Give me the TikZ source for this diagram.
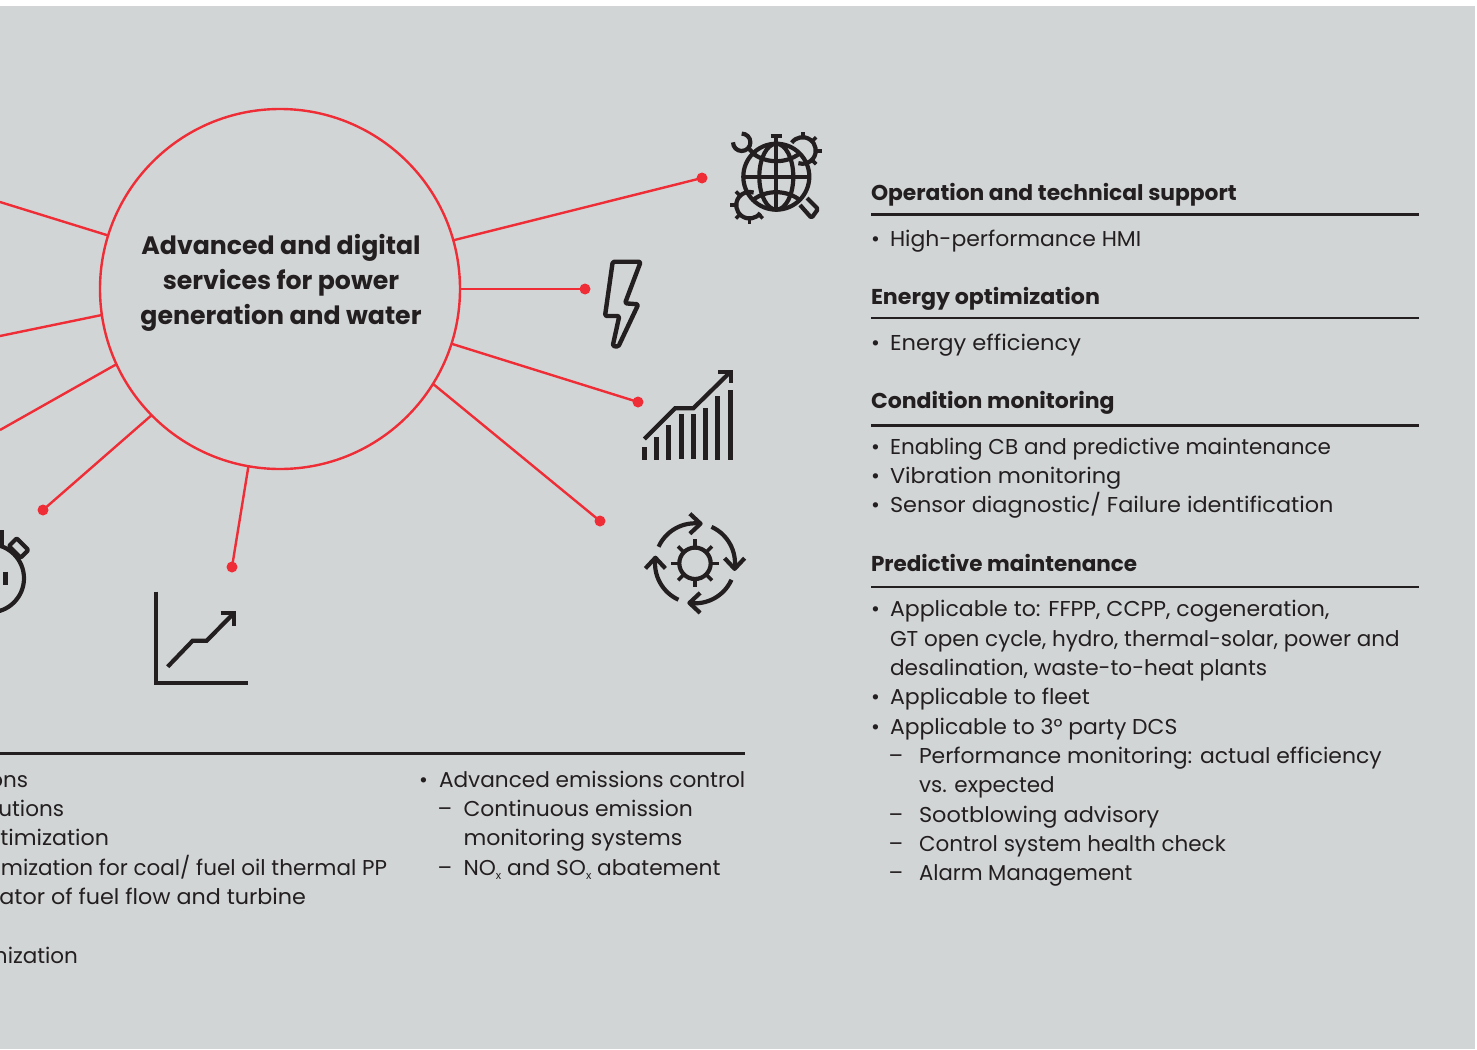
\documentclass[tikz,border=0pt]{standalone}
\usepackage{fontspec}
\usepackage{graphicx}
\usetikzlibrary{calc}
\setmainfont{Poppins}
\definecolor{bgc}{HTML}{D2D5D6}
\definecolor{redc}{HTML}{EE2D36}
\definecolor{inkc}{HTML}{231F20}
\tikzset{
  txt/.style={anchor=base west,inner sep=0pt,outer sep=0pt,text=inkc,font=\fontsize{21.5}{28}\selectfont},
  head/.style={txt,font=\fontsize{21.5}{28}\selectfont\bfseries},
  rulel/.style={draw=inkc,line width=2.4pt},
  spoke/.style={draw=redc,line width=2.4pt},
  dotn/.style={circle,fill=redc,inner sep=0pt,minimum size=11pt},
  ico/.style={draw=inkc,line width=4.2pt,line join=round},
  icothin/.style={draw=inkc,line width=3.6pt},
  bar/.style={fill=inkc}
}
\newcommand\tl[5][1]{\node[txt] (#2) at (#3,#4) {\scalebox{#1}[1]{#5}};}
\newcommand\hd[5][1]{\node[head] (#2) at (#3,#4) {\scalebox{#1}[1]{#5}};}
\newcommand\subx{\raisebox{-4pt}{\fontsize{11}{11}\selectfont x}}
\begin{document}
\begin{tikzpicture}[x=1pt,y=-1pt]
\clip (0,0) rectangle (1477,1049);
\fill[white] (0,0) rectangle (1477,1049);
\fill[bgc] (0,6) rectangle (1475,1049);
% hub
\node[circle,draw=redc,line width=2.4pt,inner sep=0pt,outer sep=0pt,minimum size=360pt] (hub) at (280,289) {};
\node[inner sep=0pt,align=center,text=inkc,font=\fontsize{25.2}{35}\selectfont\bfseries] (hubtext) at (281,282.5) {Advanced and digital\\services for power\\generation and water};
% spoke ends
\node[dotn] (d1) at (702,178) {};
\node[dotn] (d2) at (585,289) {};
\node[dotn] (d3) at (638,402) {};
\node[dotn] (d4) at (600,521) {};
\node[dotn] (d5) at (232,567) {};
\node[dotn] (d6) at (43,510) {};
\coordinate (e7) at (0,430);
\coordinate (e8) at (0,336);
\coordinate (e9) at (0,202);
\draw[spoke] ($(hub.center)+(15.7:180pt)$) -- (d1.center);
\draw[spoke] ($(hub.center)+(0:180pt)$) -- (d2.center);
\draw[spoke] ($(hub.center)+(-17.7:180pt)$) -- (d3.center);
\draw[spoke] ($(hub.center)+(-31.8:180pt)$) -- (d4.center);
\draw[spoke] ($(hub.center)+(259.9:180pt)$) -- (d5.center);
\draw[spoke] ($(hub.center)+(224.5:180pt)$) -- (d6.center);
\draw[spoke] ($(hub.center)+(204.7:180pt)$) -- (e7);
\draw[spoke] ($(hub.center)+(188.3:180pt)$) -- (e8);
\draw[spoke] ($(hub.center)+(162.7:180pt)$) -- (e9);
% globe icon
\begin{scope}[shift={(776.3,176.7)},y=1pt]
  \draw[ico] (0,0) circle[radius=33];
  \draw[ico] (0,0) ellipse[x radius=17,y radius=33];
  \draw[ico] (-33,0) -- (33,0);
  \draw[ico] (0,41) -- (0,-33);
  \draw[ico] (-5.8,41) -- (5.8,41);
  \draw[ico] (-23,23) .. controls (-10,13) and (10,13) .. (23,23);
  \draw[ico] (-23,-23) .. controls (-10,-13) and (10,-13) .. (23,-23);
  % wrench
  \draw[ico] (-34.6,43.1) arc[start angle=90,end angle=-180,radius=8.7];
  \draw[ico] (-27,27.5) -- (-21,21.5);
  % handle
  \draw[ico,rounded corners=1.5pt] (23.7,-28.3) -- (35.2,-41.3) -- (41.7,-32.3) -- (30.7,-21.3);
\end{scope}
\begin{scope}[shift={(802.7,150.7)},y=1pt]
  \draw[ico] (-11,8) arc[start angle=144,end angle=-108,radius=13.3];
  \foreach \a in {90,45,0,-45} \draw[icothin] (\a:13) -- (\a:19);
\end{scope}
\begin{scope}[shift={(749.3,205)},y=1pt]
  \draw[ico] (11,-8) arc[start angle=-36,end angle=-288,radius=13.3];
  \foreach \a in {-90,-45,-135,180,135} \draw[icothin] (\a:13) -- (\a:19);
\end{scope}
% bolt
\draw[ico,line width=4.4pt,rounded corners=1.5pt] (612.7,261.7) -- (640.7,261.7) -- (625,303.3) -- (638.3,304.3) -- (618.3,346.7) -- (612.7,346) -- (619.3,316) -- (605,316) -- cycle;
% bars
\foreach \x/\t/\b in {644.3/446.7/460,656.3/436.7/460,668.3/425/460,681.3/414/459,693.3/414/459,705.3/408.3/460,717.3/396/460,730.3/390/460}
  \fill[bar] (\x-2.5,\t) rectangle (\x+2.5,\b);
\draw[ico,line join=miter] (644.3,439) -- (675,408.3) -- (693.3,408.3) -- (730,372.3);
\draw[ico,line join=miter] (718,371.7) -- (730.7,371.7) -- (730.7,383.3);
% cycle icon
\begin{scope}[shift={(695,563.3)},y=1pt]
  \draw[ico] (0,0) circle[radius=15.7];
  \foreach \a in {0,45,...,315} \draw[icothin] (\a:15.7) -- (\a:24);
  \foreach \r in {0,-90,-180,-270} {
    \begin{scope}[rotate=\r]
      \draw[ico] (155.6:40) arc[start angle=155.6,end angle=82,radius=40];
      \draw[ico] ($(82:40)+(-10.7,10)$) -- (82:40) -- ($(82:40)+(-10.7,-10)$);
    \end{scope}
  }
\end{scope}
% stopwatch
\draw[ico] (-10,578.3) circle[radius=34];
\draw[icothin,line width=4.4pt] (5.5,571.7) -- (5.5,585);
\draw[ico,rounded corners=1pt] (16.7,538.3) -- (28.3,550) -- (20.7,557.7) -- (9,546) -- cycle;
\draw[ico,line width=7pt] (0,530) -- (0,547);
% chart icon
\draw[ico,line join=miter] (156.3,591.7) -- (156.3,683.3) -- (248.3,683.3);
\draw[ico,line join=miter] (167.7,666.7) -- (192.7,640.7) -- (206.7,640.7) -- (234.3,612.7);
\draw[ico,line join=miter] (220.7,612.7) -- (234.3,612.7) -- (234.3,626);
% right column
\hd[1.014]{h1}{871}{200}{Operation and technical support}
\coordinate (r1a) at (871,214.5); \coordinate (r1b) at (1419,214.5);
\draw[rulel] (r1a) -- (r1b);
\tl{b1}{871}{246}{•}\tl[1.02]{t1}{890}{246}{High-performance HMI}
\hd[1.03]{h2}{871}{304}{Energy optimization}
\coordinate (r2a) at (871,318); \coordinate (r2b) at (1419,318);
\draw[rulel] (r2a) -- (r2b);
\tl{b2}{871}{350}{•}\tl[1.05]{t2}{890}{350}{Energy efficiency}
\hd[1.025]{h3}{871}{408}{Condition monitoring}
\coordinate (r3a) at (871,425.5); \coordinate (r3b) at (1419,425.5);
\draw[rulel] (r3a) -- (r3b);
\tl{b3}{871}{454}{•}\tl{t3}{890}{454}{Enabling CB and predictive maintenance}
\tl{b4}{871}{483}{•}\tl[1.045]{t4}{890}{483}{Vibration monitoring}
\tl{b5}{871}{512}{•}\tl[1.042]{t5}{890}{512}{Sensor diagnostic/ Failure identification}
\hd{h4}{871}{571}{Predictive maintenance}
\coordinate (r4a) at (871,587); \coordinate (r4b) at (1419,587);
\draw[rulel] (r4a) -- (r4b);
\tl{b6}{871}{616}{•}\tl[1.026]{t6}{890}{616}{Applicable to: FFPP, CCPP, cogeneration,}
\tl{t7}{890}{646}{GT open cycle, hydro, thermal-solar, power and}
\tl[1.005]{t8}{890}{675}{desalination, waste-to-heat plants}
\tl{b9}{871}{704}{•}\tl[1.026]{t9}{890}{704}{Applicable to fleet}
\tl{b10}{871}{734}{•}\tl[1.018]{t10}{890}{734}{Applicable to 3° party DCS}
\tl{b11}{888.5}{763}{–}\tl[1.02]{t11}{919}{763}{Performance monitoring: actual efficiency}
\tl{t12}{919}{792}{vs. expected}
\tl{b13}{888.5}{822}{–}\tl[1.044]{t13}{919}{822}{Sootblowing advisory}
\tl{b14}{888.5}{851}{–}\tl{t14}{919}{851}{Control system health check}
\tl{b15}{888.5}{880}{–}\tl[.986]{t15}{919}{880}{Alarm Management}
% bottom
\coordinate (r5a) at (0,753.5); \coordinate (r5b) at (745,753.5);
\draw[rulel] (r5a) -- (r5b);
\node[txt,anchor=base east] (l1) at (28,787) {ons};
\node[txt,anchor=base east] (l2) at (64,816) {utions};
\node[txt,anchor=base east] (l3) at (109,845) {\scalebox{1.03}[1]{timization}};
\node[txt,anchor=base east] (l4) at (387,875) {mization for coal/ fuel oil thermal PP};
\node[txt,anchor=base east] (l5) at (306,904) {\scalebox{1.035}[1]{ator of fuel flow and turbine}};
\node[txt,anchor=base east] (l6) at (78,963) {nization};
\tl{m0}{419}{787}{•}\tl[1.006]{m1}{439}{787}{Advanced emissions control}
\tl{m2}{437.5}{816}{–}\tl[1.018]{m3}{463.5}{816}{Continuous emission}
\tl[1.028]{m4}{463.5}{845}{monitoring systems}
\tl{m5}{437.5}{875}{–}\tl[1.012]{m6}{463.5}{875}{NO\subx{} and SO\subx{} abatement}
\end{tikzpicture}
\end{document}
